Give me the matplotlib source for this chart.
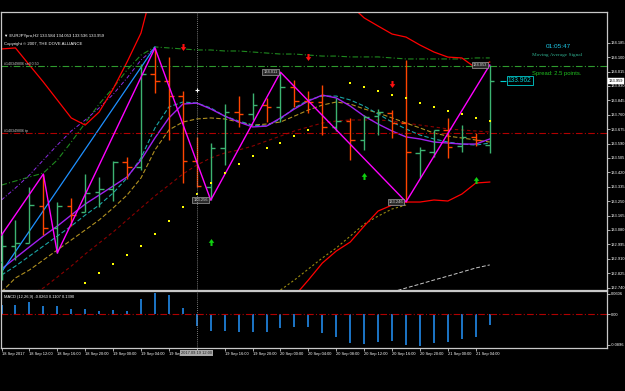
import matplotlib.pyplot as plt
import numpy as np
from matplotlib.path import Path
import matplotlib.transforms as mtransforms

# ---- data (EURJPY H2, bar 0 = 18 Sep 2017 08:00) ----
opens = [132.891, 132.985, 133.005, 133.223, 133.092, 133.221, 133.188, 133.304, 133.322, 133.481,
         133.452, 134.000, 133.959, 133.870, 133.489, 133.332, 133.564, 133.776, 133.764, 133.817,
         133.807, 133.925, 133.841, 133.837, 133.688, 133.725, 133.611, 133.752, 133.770, 133.713,
         133.536, 133.542, 133.670, 133.575, 133.627, 133.584]
highs = [133.062, 133.139, 133.334, 133.410, 133.247, 133.269, 133.410, 133.393, 133.487, 133.511,
         134.059, 134.154, 134.101, 133.902, 133.630, 133.593, 133.823, 133.870, 133.888, 133.859,
         134.011, 133.965, 133.900, 133.935, 133.859, 133.741, 133.758, 133.794, 133.788, 134.083,
         133.571, 133.670, 133.741, 133.699, 133.650, 134.053]
lows = [132.785, 132.903, 133.003, 133.050, 132.944, 133.103, 133.186, 133.216, 133.251, 133.381,
        133.434, 133.890, 133.611, 133.357, 133.335, 133.256, 133.463, 133.689, 133.729, 133.719,
        133.719, 133.807, 133.770, 133.640, 133.664, 133.493, 133.552, 133.640, 133.623, 133.246,
        133.387, 133.512, 133.505, 133.542, 133.575, 133.536]
closes = [132.985, 133.005, 133.227, 133.092, 133.221, 133.168, 133.298, 133.322, 133.481, 133.452,
          134.000, 133.959, 133.870, 133.489, 133.339, 133.564, 133.776, 133.764, 133.817, 133.807,
          133.925, 133.841, 133.837, 133.689, 133.725, 133.611, 133.748, 133.776, 133.711, 133.542,
          133.552, 133.670, 133.571, 133.627, 133.611, 133.959]

ma_fast = [132.850, 132.915, 132.980, 133.044, 133.103, 133.168, 133.233, 133.286, 133.339, 133.393,
           133.493, 133.623, 133.741, 133.823, 133.829, 133.794, 133.752, 133.717, 133.688, 133.693,
           133.741, 133.794, 133.841, 133.876, 133.859, 133.811, 133.752, 133.705, 133.664, 133.629,
           133.617, 133.599, 133.593, 133.587, 133.587, 133.617]
ma_mid = [132.814, 132.867, 132.926, 132.985, 133.044, 133.103, 133.168, 133.227, 133.298, 133.387,
          133.505, 133.682, 133.806, 133.835, 133.829, 133.800, 133.752, 133.723, 133.699, 133.693,
          133.735, 133.800, 133.847, 133.870, 133.870, 133.847, 133.811, 133.764, 133.717, 133.676,
          133.640, 133.617, 133.599, 133.587, 133.581, 133.593]
ma_slow = [132.714, 132.797, 132.844, 132.903, 132.962, 133.021, 133.080, 133.139, 133.210, 133.286,
           133.387, 133.552, 133.670, 133.717, 133.735, 133.741, 133.735, 133.717, 133.699, 133.705,
           133.717, 133.752, 133.788, 133.817, 133.835, 133.823, 133.794, 133.770, 133.741, 133.711,
           133.682, 133.652, 133.634, 133.623, 133.611, 133.599]
ma_long = [132.667, 132.667, 132.696, 132.738, 132.802, 132.867, 132.938, 133.003, 133.068, 133.139,
           133.210, 133.281, 133.345, 133.410, 133.463, 133.505, 133.534, 133.552, 133.575, 133.605,
           133.634, 133.664, 133.688, 133.711, 133.723, 133.729, 133.729, 133.729, 133.723, 133.711,
           133.699, 133.688, 133.676, 133.670, 133.664, 133.658]
nan = np.nan
band_upper = [134.148, 134.154, 134.053, 133.953, 133.847, 133.741, 133.699, 133.776, 133.912, 134.071,
              134.242, 134.560, nan, nan, nan, nan, nan, nan, nan, nan,
              nan, nan, nan, nan, nan, 134.407, 134.331, 134.283, 134.236, 134.218,
              134.171, 134.130, 134.100, 134.095, 134.036, 134.071]
band_lower = [nan] * 21 + [132.690, 132.785, 132.885, 132.956, 133.009, 133.103, 133.192, 133.227,
                           133.245, 133.245, 133.257, 133.251, 133.292, 133.357, 133.363]
env_green = [133.345, 133.369, 133.393, 133.416, 133.493, 133.599, 133.711, 133.823, 133.918, 134.024,
             134.112, 134.160, 134.154, 134.148, 134.142, 134.142, 134.136, 134.136, 134.130, 134.124,
             134.118, 134.118, 134.112, 134.106, 134.106, 134.101, 134.101, 134.101, 134.095, 134.089,
             134.089, 134.089, 134.089, 134.089, 134.095, 134.095]
env_purple = [133.257, 133.328, 133.404, 133.493, 133.581, 133.664, 133.729, 133.800, 133.880, 133.977,
              134.083, 134.154]
env_olive = [nan] * 20 + [132.726, 132.785, 132.850, 132.915, 132.974, 133.044, 133.115, 133.162,
                          133.204, 133.227]
trend_gray_bars = [28, 29, 30, 31, 32, 33, 34, 35]
trend_gray = [132.714, 132.738, 132.761, 132.785, 132.808, 132.832, 132.856, 132.874]
trend_blue_bars = [-0.1, 11]
trend_blue = [132.820, 134.160]

zigzag_bars = [0, 3, 4, 11, 15, 20, 29, 35]
zigzag_prices = [133.050, 133.410, 132.944, 134.154, 133.256, 134.011, 133.246, 134.053]
zigzag_labelled = [15, 20, 29, 35]

sar_bars = [6, 7, 8, 9, 10, 11, 12, 13, 14, 15, 16, 17, 18, 19, 20, 21, 22,
            25, 26, 27, 28, 29, 30, 31, 32, 33, 34, 35]
sar_prices = [132.767, 132.826, 132.879, 132.932, 132.985, 133.056, 133.133, 133.216, 133.292,
              133.357, 133.416, 133.469, 133.516, 133.564, 133.593, 133.634, 133.670,
              133.947, 133.924, 133.900, 133.876, 133.859, 133.829, 133.806, 133.782, 133.764,
              133.741, 133.723]

sell_arrow_bars = [13, 22, 28]
sell_arrow_prices = [134.160, 134.101, 133.941]
buy_arrow_bars = [15, 26, 34]
buy_arrow_prices = [133.009, 133.398, 133.375]

order_sell = 134.050
order_tp = 133.652
last_price = 133.959

macd = [0.0272, 0.0272, 0.0359, 0.0254, 0.0242, 0.0155, 0.0155, 0.0096, 0.0137, 0.0096,
        0.0447, 0.0613, 0.0564, 0.0184, -0.0330, -0.0488, -0.0488, -0.0517, -0.0526, -0.0526,
        -0.0388, -0.0359, -0.0371, -0.0555, -0.0663, -0.0826, -0.0856, -0.0809, -0.0788, -0.0885,
        -0.0926, -0.0838, -0.0809, -0.0721, -0.0663, -0.0312]

price_ticks = [134.185, 134.100, 134.015, 133.930, 133.845, 133.760, 133.675, 133.590, 133.505,
               133.420, 133.335, 133.250, 133.165, 133.080, 132.995, 132.910, 132.825, 132.740]
macd_ticks = [0.0606, 0.0, -0.0896]
macd_tick_labels = ['0.0606', '0.00', '-0.0896']
time_tick_bars = list(range(0, 36, 2))
# the 19 Sep 12:00 slot is covered by the crosshair date box
time_labels = ['18 Sep 2017', '18 Sep 12:00', '18 Sep 16:00', '18 Sep 20:00', '19 Sep 00:00',
               '19 Sep 04:00', '19 Sep 08:00', '', '19 Sep 16:00', '19 Sep 20:00',
               '20 Sep 00:00', '20 Sep 04:00', '20 Sep 08:00', '20 Sep 12:00', '20 Sep 16:00',
               '20 Sep 20:00', '21 Sep 00:00', '21 Sep 04:00']
cursor_bar = 14
cursor_label = '2017.09.19 12:00'

plt.rcParams['font.family'] = ['Liberation Sans', 'DejaVu Sans']
FS = 2.9
FG = '#c8c8c8'

W, H = 625, 391
fig = plt.figure(figsize=(6.25, 3.91), dpi=100, facecolor='black')
ax = fig.add_axes([1 / W, 1 - 289.5 / H, 605.5 / W, 277.5 / H], facecolor='black')
axm = fig.add_axes([1 / W, 1 - 348 / H, 605.5 / W, 57.5 / H], facecolor='black')

for a in (ax, axm):
    a.set_xlim(-0.036, 43.37)
    for s in a.spines.values():
        s.set_color(FG)
        s.set_linewidth(0.9)
    a.yaxis.tick_right()
    a.tick_params(axis='y', colors=FG, labelcolor='white', labelsize=FS, length=2, width=0.6, pad=1)
    a.tick_params(axis='x', colors=FG, labelcolor='white', labelsize=FS, length=2, width=0.6, pad=1)

ax.set_ylim(132.729, 134.366)
ax.set_yticks(price_ticks)
ax.set_yticklabels([f'{p:.3f}' for p in price_ticks])
ax.set_xticks([])

# moving averages / envelopes
x = np.arange(len(closes))
ax.plot(x, ma_long, color='#8b0000', lw=0.8, ls=(0, (3, 2.5)))
ax.plot(x, env_green, color='#1f8a1f', lw=0.8, ls=(0, (5, 2, 1, 2)))
ax.plot(x[:len(env_purple)], env_purple, color='#8a2be2', lw=0.7, ls=(0, (4, 2, 1, 2)))
ax.plot(x[:len(env_olive)], env_olive, color='#9a8a10', lw=0.8, ls=(0, (2, 2)))
ax.plot(trend_gray_bars, trend_gray, color='#c8c8c8', lw=0.7, ls=(0, (4, 2)))
ax.plot(x, ma_slow, color='#b09020', lw=0.8, ls=(0, (4, 2)))
ax.plot(x, ma_mid, color='#1aa5a5', lw=0.8, ls=(0, (4, 2)))
ax.plot(x, ma_fast, color='#a020f0', lw=1.0)
ax.plot(x, band_upper, color='#ff0000', lw=0.9)
ax.plot(x, band_lower, color='#ff0000', lw=0.9)
ax.plot(trend_blue_bars, trend_blue, color='#1e90ff', lw=0.9)

# order lines
ax.axhline(order_sell, color='#2e9a2e', lw=0.8, ls=(0, (6, 2, 1, 2)))
ax.axhline(order_tp, color='#b00000', lw=0.8, ls=(0, (6, 2, 1, 2)))
ax.text(0.2, order_sell, '#140349806 sell 0.50', color=FG, fontsize=FS - 0.3, va='bottom', ha='left')
ax.text(0.2, order_tp, '#140349806 tp', color=FG, fontsize=FS - 0.3, va='bottom', ha='left')

# OHLC bars
cols = ['#3cb371' if c >= o else '#ff4500' for o, c in zip(opens, closes)]
ax.vlines(x, lows, highs, colors=cols, lw=1.0, zorder=4)
ax.hlines(opens, x - 0.33, x, colors=cols, lw=1.0, zorder=4)
ax.hlines(closes, x, x + 0.33, colors=cols, lw=1.0, zorder=4)

# zigzag
ax.plot(zigzag_bars, zigzag_prices, color='#ff00ff', lw=1.0, zorder=5)
for b, p in zip(zigzag_bars, zigzag_prices):
    if b in zigzag_labelled:
        ax.text(b - 0.2, p, f'{p:.3f}', color='#d0d0d0', fontsize=FS, ha='right', va='center', zorder=6,
                bbox=dict(boxstyle='square,pad=0.25', fc='#2a2a2a', ec='#a0a0a0', lw=0.5))

# parabolic SAR
ax.plot(sar_bars, sar_prices, 's', color='#ffff00', ms=1.5, mew=0, zorder=5)

# signal arrows
arrow_dn = Path([(-0.3, 1), (0.3, 1), (0.3, 0.1), (0.8, 0.1), (0, -1), (-0.8, 0.1), (-0.3, 0.1), (-0.3, 1)])
arrow_up = Path([(vx, -vy) for vx, vy in arrow_dn.vertices])
ax.plot(sell_arrow_bars, sell_arrow_prices, ls='none', marker=arrow_dn, ms=5, color='#ff1010', mew=0, zorder=6)
ax.plot(buy_arrow_bars, buy_arrow_prices, ls='none', marker=arrow_up, ms=5, color='#10d010', mew=0, zorder=6)

# crosshair
for a in (ax, axm):
    a.axvline(cursor_bar, color='#a0a0a0', lw=0.6, ls=(0, (1, 1.5)), zorder=7)
ax.plot(cursor_bar, 133.906, '+', color='white', ms=3, mew=0.8, zorder=8)

# last price marks
ax.hlines(last_price, 35.7, 36.2, color='#00ced1', lw=0.8)
ax.text(36.3, last_price, f'{133.962:.3f}', color='#00ced1', fontsize=4.8, ha='left', va='center',
        bbox=dict(boxstyle='square,pad=0.15', fc='black', ec='#00ced1', lw=0.6))
ytr = mtransforms.blended_transform_factory(ax.transAxes, ax.transData)
ax.text(1.004, last_price, f'{last_price:.3f}', transform=ytr, color='black', fontsize=FS,
        ha='left', va='center', clip_on=False, zorder=9,
        bbox=dict(boxstyle='square,pad=0.2', fc='white', ec='white', lw=0.3))

# header texts
fig.text(4 / W, 1 - 36 / H, '\u25bc EURJPYpro,H2 133.584 134.053 133.536 133.959', color='white',
         fontsize=3.1, va='center', ha='left')
fig.text(4 / W, 1 - 44 / H, 'Copyright \u00a9 2007, THE DOVE ALLIANCE', color='white', fontsize=3.1,
         va='center', ha='left')
fig.text(558 / W, 1 - 46 / H, '01:05:47', color='#1ec8e6', fontsize=4.6, ha='center', va='center')
fig.text(557 / W, 1 - 55 / H, 'Moving Average Signal', color='#2faf8f', fontsize=3.8, ha='center',
         va='center', family='Liberation Serif')
fig.text(557 / W, 1 - 73.5 / H, 'Spread: 2.5 points.', color='#20c020', fontsize=4.2, ha='center',
         va='center')

# MACD panel
axm.set_ylim(-0.0984, 0.0695)
axm.vlines(x, 0, macd, colors='#1e7fd8', lw=1.3)
axm.axhline(0, color='#b00000', lw=0.8, ls=(0, (6, 2, 1, 2)))
axm.set_yticks(macd_ticks)
axm.set_yticklabels(macd_tick_labels)
axm.set_xticks(time_tick_bars)
axm.set_xticklabels(time_labels, ha='left')
axm.text(0.005, 0.93, 'MACD (12,26,9) -0.0263 0.1107 0.1390', transform=axm.transAxes, color='white',
         fontsize=FS, ha='left', va='top')
xtr = mtransforms.blended_transform_factory(axm.transData, axm.transAxes)
axm.text(cursor_bar, -0.045, cursor_label, transform=xtr, color='#202020', fontsize=FS,
         ha='center', va='top', clip_on=False, zorder=9,
         bbox=dict(boxstyle='square,pad=0.25', fc='#a8a8a8', ec='none'))

fig.savefig('out.png', dpi=100, facecolor='black')
